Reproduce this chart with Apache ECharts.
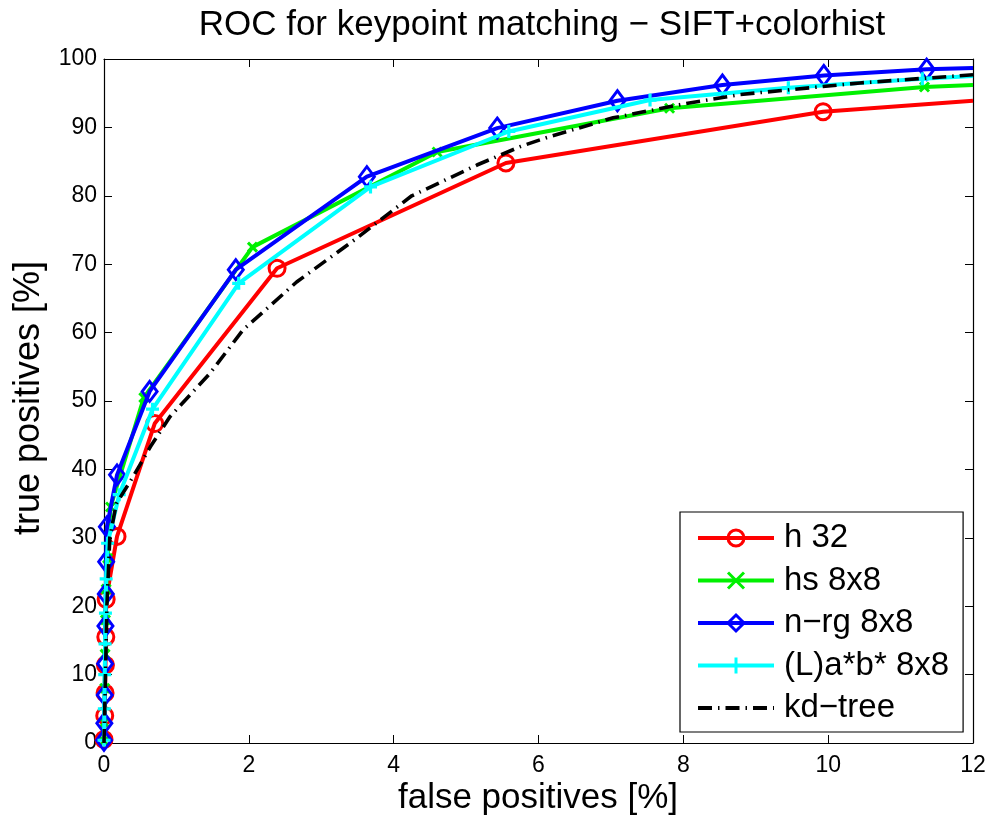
<!DOCTYPE html>
<html>
<head>
<meta charset="utf-8">
<script src="https://cdn.jsdelivr.net/npm/echarts@6/dist/echarts.min.js"></script>
<style>
html,body{margin:0;padding:0;background:#fff;}
#chart{width:989px;height:818px;}
</style>
</head>
<body>
<div id="chart"></div>
<script>
// ---- data ----
const seriesNames = ["h 32", "hs 8x8", "n\u2212rg 8x8", "(L)a*b* 8x8", "kd\u2212tree"];

const h32X = [0, 0.01, 0.015, 0.02, 0.025, 0.03, 0.18, 0.70, 2.39, 5.55, 9.93, 12];
const h32Y = [0.5, 4, 7.3, 11.4, 15.5, 21, 30.2, 46.7, 69.4, 84.8, 92.3, 93.9];

const hsX = [0, 0.005, 0.01, 0.015, 0.02, 0.03, 0.05, 0.09, 0.55, 2.05, 4.6, 7.81, 11.33, 12];
const hsY = [0.3, 3, 8, 13, 18, 22.5, 27, 34.5, 50.5, 72.5, 86.4, 92.8, 95.9, 96.2];

const nrgX = [0, 0.005, 0.01, 0.015, 0.02, 0.025, 0.03, 0.04, 0.18, 0.63, 1.82, 3.63, 5.43, 7.09, 8.54, 9.94, 11.36, 12];
const nrgY = [0.4, 2.9, 7, 11.6, 17.1, 21.8, 26.5, 31.6, 39.2, 51.4, 69.2, 82.8, 89.9, 93.9, 96.2, 97.6, 98.5, 98.7];

const labX = [0, 0.005, 0.01, 0.015, 0.02, 0.03, 0.05, 0.21, 0.67, 1.86, 3.68, 5.59, 7.54, 9.45, 11.3, 12];
const labY = [0.4, 5, 10, 14.5, 19, 24, 29.2, 36.3, 48.8, 67.2, 81.3, 89.4, 94.0, 95.8, 97.1, 97.5];

const kdX = [0, 0.02, 0.04, 0.08, 0.17, 0.4, 0.64, 0.91, 1.46, 1.92, 2.66, 3.49, 4.25, 5.15, 5.75, 6.11, 7.03, 8.04, 8.78, 10.44, 12];
const kdY = [0, 10, 20, 30, 35, 38.9, 43.3, 47.7, 54, 60.4, 67.4, 73.8, 80, 84.5, 87.2, 88.5, 91.4, 93.5, 94.8, 96.5, 97.7];

const xTicks = [0, 2, 4, 6, 8, 10, 12];
const yTicks = [0, 10, 20, 30, 40, 50, 60, 70, 80, 90, 100];

const titleText = 'ROC for keypoint matching \u2212 SIFT+colorhist';
const xName = 'false positives [%]';
const yName = 'true positives [%]';

// ---- build chart ----
const FONT = "'Liberation Sans', Arial, Helvetica, sans-serif";

function pts(xs, ys, lastHasMarker) {
  return xs.map((x, i) => {
    if (!lastHasMarker && i === xs.length - 1) {
      return { value: [x, ys[i]], symbol: 'none' };
    }
    return [x, ys[i]];
  });
}

const chart = echarts.init(document.getElementById('chart'), null, { renderer: 'canvas' });

const grid = { left: 104, right: 16, top: 59, bottom: 75, containLabel: false };

const baseX = {
  type: 'value', min: xTicks[0], max: xTicks[xTicks.length - 1], interval: xTicks[1] - xTicks[0],
  splitLine: { show: false },
  axisLine: { show: true, onZero: false, lineStyle: { color: '#000', width: 1.2 } },
  axisTick: { show: true, inside: true, length: 8, lineStyle: { color: '#000', width: 1 } }
};
const baseY = {
  type: 'value', min: yTicks[0], max: yTicks[yTicks.length - 1], interval: yTicks[1] - yTicks[0],
  splitLine: { show: false },
  axisLine: { show: true, onZero: false, lineStyle: { color: '#000', width: 1.2 } },
  axisTick: { show: true, inside: true, length: 8, lineStyle: { color: '#000', width: 1 } }
};

const option = {
  backgroundColor: '#fff',
  animation: false,
  title: {
    text: titleText,
    left: 537, top: 3, textAlign: 'center',
    textStyle: { fontFamily: FONT, fontSize: 35, fontWeight: 'normal', color: '#000' }
  },
  graphic: [
    {
      type: 'text', x: 538, y: 798, z: 10,
      style: { text: xName, fontFamily: FONT, fontSize: 35, fill: '#000', align: 'center', verticalAlign: 'middle' }
    },
    {
      type: 'text', x: 29, y: 398, rotation: Math.PI / 2, z: 10,
      style: { text: yName, fontFamily: FONT, fontSize: 36, fill: '#000', align: 'center', verticalAlign: 'middle' }
    }
  ],
  grid: grid,
  xAxis: [
    Object.assign({}, baseX, {
      position: 'bottom',
      axisLabel: { show: true, margin: 11, fontFamily: FONT, fontSize: 23, color: '#000' }
    }),
    Object.assign({}, baseX, { position: 'top', axisLabel: { show: false } })
  ],
  yAxis: [
    Object.assign({}, baseY, {
      position: 'left',
      axisLabel: { show: true, margin: 7, fontFamily: FONT, fontSize: 23, color: '#000' }
    }),
    Object.assign({}, baseY, { position: 'right', axisLabel: { show: false } })
  ],
  legend: {
    orient: 'vertical', left: 680, top: 512,
    padding: [9, 14, 7, 16],
    itemWidth: 76, itemHeight: 20, itemGap: 8.5,
    backgroundColor: '#fff', borderColor: '#000', borderWidth: 1.2,
    lineStyle: { width: 4 },
    itemStyle: { borderWidth: 3 },
    textStyle: { fontFamily: FONT, fontSize: 33, color: '#000', lineHeight: 34, padding: [0, 0, 0, 5] },
    data: [
      seriesNames[0], seriesNames[1], seriesNames[2], seriesNames[3],
      { name: seriesNames[4], itemStyle: { opacity: 0 } }
    ]
  },
  series: [
    {
      name: seriesNames[0], type: 'line', data: pts(h32X, h32Y, false),
      color: '#ff0000', symbol: 'circle', symbolSize: 16,
      lineStyle: { color: '#ff0000', width: 4 },
      itemStyle: { color: 'rgba(0,0,0,0)', borderColor: '#ff0000', borderWidth: 3 },
      clip: true, z: 2
    },
    {
      name: seriesNames[1], type: 'line', data: pts(hsX, hsY, false),
      color: '#00f000', symbol: 'path://M0,0L10,10M10,0L0,10', symbolSize: 9,
      lineStyle: { color: '#00f000', width: 4 },
      itemStyle: { color: 'rgba(0,0,0,0)', borderColor: '#00f000', borderWidth: 3 },
      clip: true, z: 3
    },
    {
      name: seriesNames[2], type: 'line', data: pts(nrgX, nrgY, false),
      color: '#0000ff', symbol: 'diamond', symbolSize: [15, 20],
      lineStyle: { color: '#0000ff', width: 4 },
      itemStyle: { color: 'rgba(0,0,0,0)', borderColor: '#0000ff', borderWidth: 3 },
      clip: true, z: 4
    },
    {
      name: seriesNames[3], type: 'line', data: pts(labX, labY, false),
      color: '#00ffff', symbol: 'path://M5,0L5,10M0,5L10,5', symbolSize: 13,
      lineStyle: { color: '#00ffff', width: 4 },
      itemStyle: { color: 'rgba(0,0,0,0)', borderColor: '#00ffff', borderWidth: 3.2 },
      clip: true, z: 5
    },
    {
      name: seriesNames[4], type: 'line', data: pts(kdX, kdY, true),
      color: '#000000', symbol: 'none', showSymbol: false,
      lineStyle: { color: '#000000', width: 3.6, type: [14, 6, 1.5, 6] },
      clip: true, z: 6
    }
  ]
};

chart.setOption(option);
</script>
</body>
</html>
